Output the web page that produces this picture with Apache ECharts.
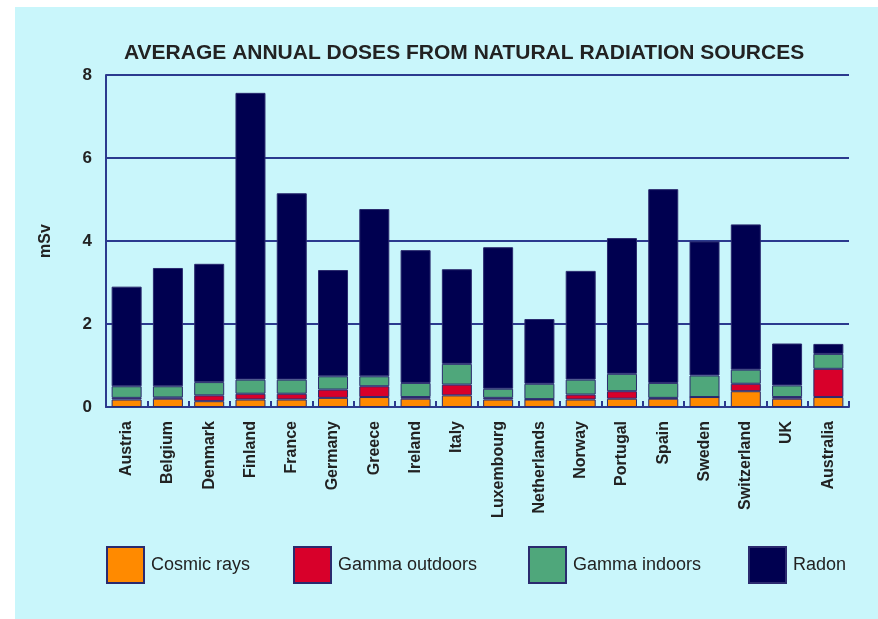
<!DOCTYPE html>
<html>
<head>
<meta charset="utf-8">
<script src="https://cdn.jsdelivr.net/npm/echarts@6/dist/echarts.min.js"></script>
<style>
  html, body { margin: 0; padding: 0; background: #fff; }
  #chart { width: 878px; height: 619px; }
</style>
</head>
<body>
<div id="chart"></div>
<script>
// countries along the x axis
const countries = ['Austria', 'Belgium', 'Denmark', 'Finland', 'France', 'Germany', 'Greece',
  'Ireland', 'Italy', 'Luxembourg', 'Netherlands', 'Norway', 'Portugal', 'Spain', 'Sweden',
  'Switzerland', 'UK', 'Australia'];

// doses in mSv, one value per source (stacked)
const cosmicRays    = [0.18, 0.20, 0.14, 0.18, 0.18, 0.22, 0.24, 0.20, 0.28, 0.18, 0.18, 0.18, 0.20, 0.20, 0.24, 0.38, 0.20, 0.24];
const gammaOutdoors = [0.04, 0.03, 0.14, 0.14, 0.14, 0.20, 0.26, 0.04, 0.26, 0.04, 0.01, 0.12, 0.18, 0.02, 0.00, 0.18, 0.04, 0.68];
const gammaIndoors  = [0.28, 0.27, 0.32, 0.34, 0.34, 0.32, 0.24, 0.34, 0.50, 0.22, 0.37, 0.36, 0.42, 0.36, 0.52, 0.34, 0.28, 0.36];
const radon         = [2.40, 2.85, 2.85, 6.91, 4.49, 2.56, 4.03, 3.20, 2.28, 3.41, 1.56, 2.62, 3.27, 4.67, 3.23, 3.50, 1.01, 0.24];

const yTicks = [0, 2, 4, 6, 8];

const navy = '#2b3a8e';
const chart = echarts.init(document.getElementById('chart'));

function bar(name, data, color) {
  return {
    name: name,
    type: 'bar',
    stack: 'dose',
    data: data,
    barWidth: 30,
    itemStyle: { color: color, borderColor: '#2a2a6e', borderWidth: 1 }
  };
}

// one legend per item so each sits where the original puts it
function legendAt(name, x) {
  return {
    data: [name],
    left: x - 5,
    top: 541,
    icon: 'rect',
    itemWidth: 37,
    itemHeight: 36,
    selectedMode: false,
    textStyle: { fontFamily: 'Liberation Sans', fontSize: 18, color: '#222', padding: [0, 0, 0, 2] }
  };
}

chart.setOption({
  backgroundColor: '#ffffff',
  animation: false,
  graphic: [{
    type: 'rect',
    z: -10,
    shape: { x: 15, y: 7, width: 863, height: 612 },
    style: { fill: '#c9f6fb' }
  }],
  title: {
    text: 'AVERAGE ANNUAL DOSES FROM NATURAL RADIATION SOURCES',
    left: 119,
    top: 38,
    textStyle: { fontFamily: 'Liberation Sans', fontWeight: 'bold', fontSize: 21, color: '#222' }
  },
  legend: [
    legendAt('Cosmic rays', 106),
    legendAt('Gamma outdoors', 293),
    legendAt('Gamma indoors', 528),
    legendAt('Radon', 748)
  ],
  grid: { left: 106, right: 29, top: 75, bottom: 212 },
  xAxis: {
    type: 'category',
    data: countries,
    axisLine: { lineStyle: { color: navy, width: 2 } },
    axisTick: { show: true, inside: true, length: 6, lineStyle: { color: navy, width: 2 } },
    axisLabel: {
      rotate: 90,
      margin: 14,
      fontFamily: 'Liberation Sans',
      fontWeight: 'bold',
      fontSize: 16,
      color: '#222'
    }
  },
  yAxis: {
    type: 'value',
    min: yTicks[0],
    max: yTicks[yTicks.length - 1],
    interval: 2,
    name: 'mSv',
    nameLocation: 'middle',
    nameGap: 52,
    nameRotate: 90,
    nameTextStyle: { fontFamily: 'Liberation Sans', fontWeight: 'bold', fontSize: 16, color: '#222' },
    axisLine: { show: true, lineStyle: { color: navy, width: 2 } },
    axisTick: { show: false },
    splitLine: { lineStyle: { color: navy, width: 2 } },
    axisLabel: {
      margin: 14,
      fontFamily: 'Liberation Sans',
      fontWeight: 'bold',
      fontSize: 17,
      color: '#222'
    }
  },
  series: [
    bar('Cosmic rays', cosmicRays, '#ff8a00'),
    bar('Gamma outdoors', gammaOutdoors, '#d8002a'),
    bar('Gamma indoors', gammaIndoors, '#4fa77b'),
    bar('Radon', radon, '#000050')
  ]
});
</script>
</body>
</html>
